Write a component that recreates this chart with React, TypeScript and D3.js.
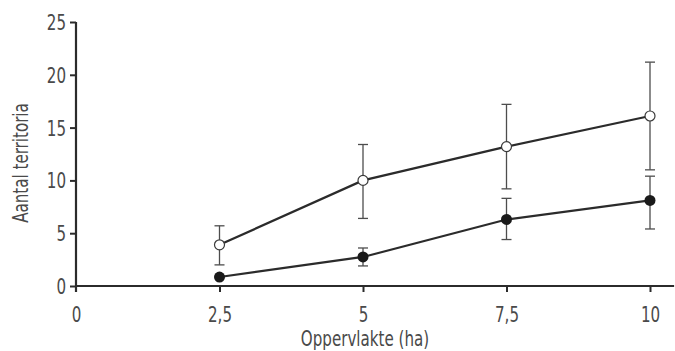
import React, { useEffect, useRef } from "react";
import * as d3 from "d3";

const areas = [2.5, 5, 7.5, 10];
const openMean = [3.9, 10.0, 13.2, 16.1];
const openLow = [2.0, 6.4, 9.2, 11.0];
const openHigh = [5.7, 13.4, 17.2, 21.2];
const filledMean = [0.85, 2.75, 6.3, 8.1];
const filledLow = [0.85, 1.9, 4.4, 5.4];
const filledHigh = [0.85, 3.6, 8.3, 10.4];
const xTicks = [0, 2.5, 5, 7.5, 10];
const yTicks = [0, 5, 10, 15, 20, 25];

const width = 675;
const height = 351;
const font = "'DejaVu Sans Condensed', sans-serif";
// condensed look of the original lettering
const squeeze = "scale(0.8,1)";

const App = () => {
  const ref = useRef<SVGSVGElement>(null);

  useEffect(() => {
    const svg = d3.select(ref.current);
    svg.selectAll("*").remove();

    const x = d3.scaleLinear([0, 10], [76, 650]);
    const y = d3.scaleLinear([0, 25], [286, 22]);
    const fmt = (d) => String(d).replace(".", ",");
    const ink = "#2b2b2b";
    const textInk = "#4a4a4a";

    // x axis
    const gx = svg
      .append("g")
      .attr("transform", `translate(0,${y(0)})`)
      .call(d3.axisBottom(x).tickValues(xTicks).tickFormat(fmt).tickSize(6).tickSizeOuter(0));
    gx.select(".domain").attr("d", `M${x(0)},0H${x(10.42)}`);
    gx.selectAll(".tick")
      .filter((d) => d === 0)
      .select("line")
      .remove();

    // y axis
    const gy = svg
      .append("g")
      .attr("transform", `translate(${x(0)},0)`)
      .call(d3.axisLeft(y).tickValues(yTicks).tickSize(6).tickSizeOuter(0));
    gy.select(".domain").attr("d", `M0,${y(25)}V${y(0) + 6}`);

    svg
      .selectAll(".domain")
      .attr("stroke", ink)
      .attr("stroke-width", 2.2);
    svg.selectAll(".tick line").attr("stroke", ink).attr("stroke-width", 2);
    svg
      .selectAll(".tick text")
      .attr("fill", textInk)
      .attr("font-family", font)
      .attr("font-size", 21)
      .attr("transform", squeeze);
    gx.selectAll(".tick text").attr("dy", null).attr("y", 36);
    gy.selectAll(".tick text").attr("x", -12.5).attr("dy", "0.36em");

    // axis titles
    svg
      .append("text")
      .attr("transform", `translate(365,346) ${squeeze}`)
      .attr("text-anchor", "middle")
      .attr("fill", textInk)
      .attr("font-family", font)
      .attr("font-size", 21)
      .text("Oppervlakte (ha)");
    svg
      .append("text")
      .attr("transform", `translate(28,${163}) rotate(-90) ${squeeze}`)
      .attr("text-anchor", "middle")
      .attr("fill", textInk)
      .attr("font-family", font)
      .attr("font-size", 21)
      .text("Aantal territoria");

    // error bars
    const errors = svg.append("g").attr("stroke", "#4d4d4d").attr("stroke-width", 1.3);
    const drawErr = (low, high) => {
      areas.forEach((a, i) => {
        if (high[i] - low[i] < 0.01) return;
        const cx = x(a);
        errors.append("line").attr("x1", cx).attr("x2", cx).attr("y1", y(low[i])).attr("y2", y(high[i]));
        [low[i], high[i]].forEach((v) =>
          errors.append("line").attr("x1", cx - 5).attr("x2", cx + 5).attr("y1", y(v)).attr("y2", y(v))
        );
      });
    };
    drawErr(openLow, openHigh);
    drawErr(filledLow, filledHigh);

    const line = d3
      .line<number>()
      .x((d, i) => x(areas[i]))
      .y((d) => y(d));

    svg
      .append("path")
      .attr("d", line(openMean))
      .attr("fill", "none")
      .attr("stroke", ink)
      .attr("stroke-width", 2.2);
    svg
      .append("path")
      .attr("d", line(filledMean))
      .attr("fill", "none")
      .attr("stroke", ink)
      .attr("stroke-width", 2.2);

    svg
      .append("g")
      .selectAll("circle")
      .data(openMean)
      .join("circle")
      .attr("cx", (d, i) => x(areas[i]))
      .attr("cy", (d) => y(d))
      .attr("r", 5)
      .attr("fill", "white")
      .attr("stroke", "#3a3a3a")
      .attr("stroke-width", 1.2);

    svg
      .append("g")
      .selectAll("circle")
      .data(filledMean)
      .join("circle")
      .attr("cx", (d, i) => x(areas[i]))
      .attr("cy", (d) => y(d))
      .attr("r", 5.5)
      .attr("fill", "#1a1a1a");
  }, []);

  return (
    <svg
      ref={ref}
      width={width}
      height={height}
      style={{ position: "absolute", left: 0, top: 0, background: "white" }}
    ></svg>
  );
};

export default App;
